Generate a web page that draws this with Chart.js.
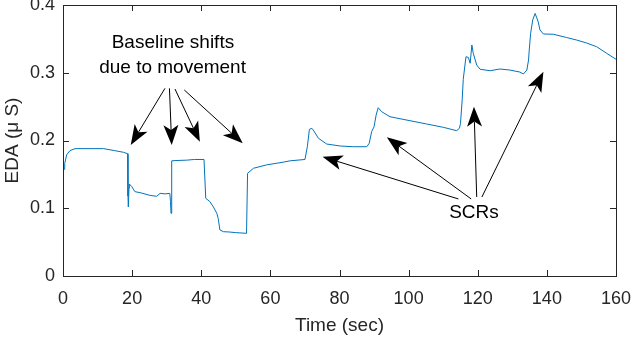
<!DOCTYPE html>
<html>
<head>
<meta charset="utf-8">
<script src="https://cdn.jsdelivr.net/npm/chart.js@4.4.0/dist/chart.umd.min.js"></script>
<style>
  html, body { margin: 0; padding: 0; background: #fff; }
  #wrap { width: 632px; height: 338px; }
</style>
</head>
<body>
<div id="wrap"><canvas id="edaChart" width="632" height="338"></canvas></div>
<script>
    // time (sec) and EDA (uS)
    var timeSec = [0.29, 0.5, 1.07, 2.0, 3.5, 7.8, 11.7, 15.0, 17.5, 18.7, 18.8, 18.9, 19.1, 19.2,
        19.9, 20.8, 22.3, 25.2, 27.1, 28.1, 29.5, 30.9, 31.1, 31.25, 31.4, 31.5,
        33.0, 35.8, 38.0, 40.8, 41.3, 42.5, 43.5, 44.5, 44.9, 45.4, 46.4, 48.0, 50.0, 53.1,
        53.4, 55.1, 58.9, 63.7, 65.7, 70.0, 70.7, 71.3, 72.0, 72.4, 73.9, 76.3, 80.2, 84.0,
        87.9, 88.6, 89.3, 90.0, 90.6, 91.2, 92.2, 94.6, 100.4, 105.2, 110.0, 113.9, 114.7,
        115.0, 115.5, 115.8, 116.3, 116.6, 117.3, 117.8, 118.3, 118.7, 119.7, 120.7, 123.6,
        126.4, 129.3, 132.2, 133.2, 134.2, 134.7, 134.9, 135.3, 135.9, 136.6, 137.1, 137.5,
        138.0, 139.0, 141.9, 145.7, 148.6, 151.5, 154.4, 157.3, 160.0]
    var edaValues = [0.1575, 0.166, 0.179, 0.185, 0.188, 0.188, 0.188, 0.185, 0.1826, 0.1805, 0.118, 0.102, 0.13, 0.1358,
        0.132, 0.1245, 0.123, 0.119, 0.1176, 0.122, 0.1212, 0.122, 0.11, 0.0925, 0.125, 0.170,
        0.1705, 0.171, 0.172, 0.172, 0.1147, 0.1097, 0.102, 0.0925, 0.085, 0.068, 0.0654, 0.065, 0.064, 0.063,
        0.1516, 0.159, 0.164, 0.168, 0.170, 0.172, 0.191, 0.2165, 0.218, 0.2155, 0.2033, 0.1948, 0.1919, 0.1908,
        0.1908, 0.1959, 0.213, 0.2204, 0.2376, 0.2484, 0.2425, 0.2351, 0.2292, 0.2244, 0.2195, 0.2145, 0.218,
        0.225, 0.26, 0.29, 0.3114, 0.3237, 0.3225, 0.314, 0.341, 0.3287, 0.3114, 0.3051, 0.303,
        0.3055, 0.304, 0.301, 0.2982, 0.304, 0.3188, 0.3336, 0.3582, 0.3779, 0.3875, 0.3808, 0.3749,
        0.3631, 0.3572, 0.3568, 0.352, 0.3483, 0.3439, 0.3384, 0.3287, 0.3199]

    var xTicks = [0, 20, 40, 60, 80, 100, 120, 140, 160]
    var yTicks = [0, 0.1, 0.2, 0.3, 0.4]

    // annotation arrows: [fromX, fromY, toX, toY] in data units
    var baselineArrows = [
        [29.5, 0.277, 19.6, 0.1934],
        [30.8, 0.277, 31.45, 0.1934],
        [32.4, 0.276, 39.6, 0.198],
        [35.1, 0.2745, 52.0, 0.1959]
    ]
    var scrArrows = [
        [114.4, 0.1137, 75.1, 0.176],
        [118.1, 0.1137, 93.7, 0.2047],
        [119.7, 0.1166, 118.9, 0.25],
        [121.2, 0.1166, 139.0, 0.3016]
    ]
    var noteLabels = [
        ['Baseline shifts', 31.8, 0.344],
        ['due to movement', 31.7, 0.307],
        ['SCRs', 118.9, 0.093]
    ]

    var points = timeSec.map(function(t, i) { return {x: t, y: edaValues[i]} })
    var axisColor = '#262626'
    var fontFam = '"Liberation Sans", Arial, sans-serif'

    var matlabBox = {
        id: 'matlabBox',
        afterDraw: function(chart) {
            var ctx = chart.ctx
            var a = chart.chartArea
            var xs = chart.scales.x
            var ys = chart.scales.y
            ctx.save()
            ctx.strokeStyle = axisColor
            ctx.lineWidth = 1
            ctx.strokeRect(Math.round(a.left) + 0.5, Math.round(a.top) + 0.5,
                Math.round(a.right - a.left), Math.round(a.bottom - a.top))
            ctx.beginPath()
            xTicks.forEach(function(v) {
                var px = Math.round(xs.getPixelForValue(v)) + 0.5
                ctx.moveTo(px, a.bottom); ctx.lineTo(px, a.bottom - 6)
                ctx.moveTo(px, a.top); ctx.lineTo(px, a.top + 6)
            })
            yTicks.forEach(function(v) {
                var py = Math.round(ys.getPixelForValue(v)) + 0.5
                ctx.moveTo(a.left, py); ctx.lineTo(a.left + 6, py)
                ctx.moveTo(a.right, py); ctx.lineTo(a.right - 6, py)
            })
            ctx.stroke()

            // arrows
            function arrow(ar) {
                var x0 = xs.getPixelForValue(ar[0]), y0 = ys.getPixelForValue(ar[1])
                var x1 = xs.getPixelForValue(ar[2]), y1 = ys.getPixelForValue(ar[3])
                var ang = Math.atan2(y1 - y0, x1 - x0)
                var len = 20, hw = 7.5, ind = 15
                var c = Math.cos(ang), s = Math.sin(ang)
                ctx.strokeStyle = '#000'
                ctx.lineWidth = 1
                ctx.beginPath()
                ctx.moveTo(x0, y0)
                ctx.lineTo(x1 - c * ind, y1 - s * ind)
                ctx.stroke()
                ctx.fillStyle = '#000'
                ctx.beginPath()
                ctx.moveTo(x1, y1)
                ctx.lineTo(x1 - c * len - s * hw, y1 - s * len + c * hw)
                ctx.lineTo(x1 - c * ind, y1 - s * ind)
                ctx.lineTo(x1 - c * len + s * hw, y1 - s * len - c * hw)
                ctx.closePath()
                ctx.fill()
            }
            baselineArrows.forEach(arrow)
            scrArrows.forEach(arrow)

            ctx.fillStyle = '#000'
            ctx.font = '19px ' + fontFam
            ctx.textAlign = 'center'
            ctx.textBaseline = 'middle'
            noteLabels.forEach(function(n) {
                ctx.fillText(n[0], xs.getPixelForValue(n[1]), ys.getPixelForValue(n[2]))
            })
            ctx.restore()
        }
    }

    var ctx = document.getElementById('edaChart').getContext('2d');
    var myChart = new Chart(ctx, {
        type: 'line',
        data: {
            datasets: [{
                label: 'EDA',
                data: points,
                borderColor: '#0072BD',
                borderWidth: 1,
                pointRadius: 0,
                fill: false,
                tension: 0
            }]
        },
        options: {
            responsive: false,
            animation: false,
            layout: { autoPadding: false, padding: { top: 5, right: 16, left: 0, bottom: 0 } },
            plugins: {
                legend: { display: false },
                tooltip: { enabled: false }
            },
            scales: {
                x: {
                    type: 'linear',
                    min: 0,
                    max: 160,
                    afterBuildTicks: function(scale) { scale.ticks = xTicks.map(function(v) { return {value: v} }) },
                    afterFit: function(scale) {
                        scale.height = 62
                        scale.paddingLeft = 0
                        scale.paddingRight = 0
                    },
                    grid: { display: false, drawTicks: false },
                    border: { display: false },
                    ticks: { color: axisColor, padding: 12, maxRotation: 0, font: { family: fontFam, size: 18 } },
                    title: { display: true, text: 'Time (sec)', color: axisColor, padding: { top: 0, bottom: 1 }, font: { family: fontFam, size: 19 } }
                },
                y: {
                    min: 0,
                    max: 0.4,
                    afterBuildTicks: function(scale) { scale.ticks = yTicks.map(function(v) { return {value: v} }) },
                    afterFit: function(scale) {
                        scale.width = 63
                        scale.paddingTop = 0
                        scale.paddingBottom = 0
                    },
                    grid: { display: false, drawTicks: false },
                    border: { display: false },
                    ticks: { color: axisColor, padding: 8, font: { family: fontFam, size: 18 } },
                    title: { display: true, text: 'EDA (μ S)', color: axisColor, padding: { top: 1, bottom: 0 }, font: { family: fontFam, size: 19 } }
                }
            }
        },
        plugins: [matlabBox]
    });
</script>
</body>
</html>
